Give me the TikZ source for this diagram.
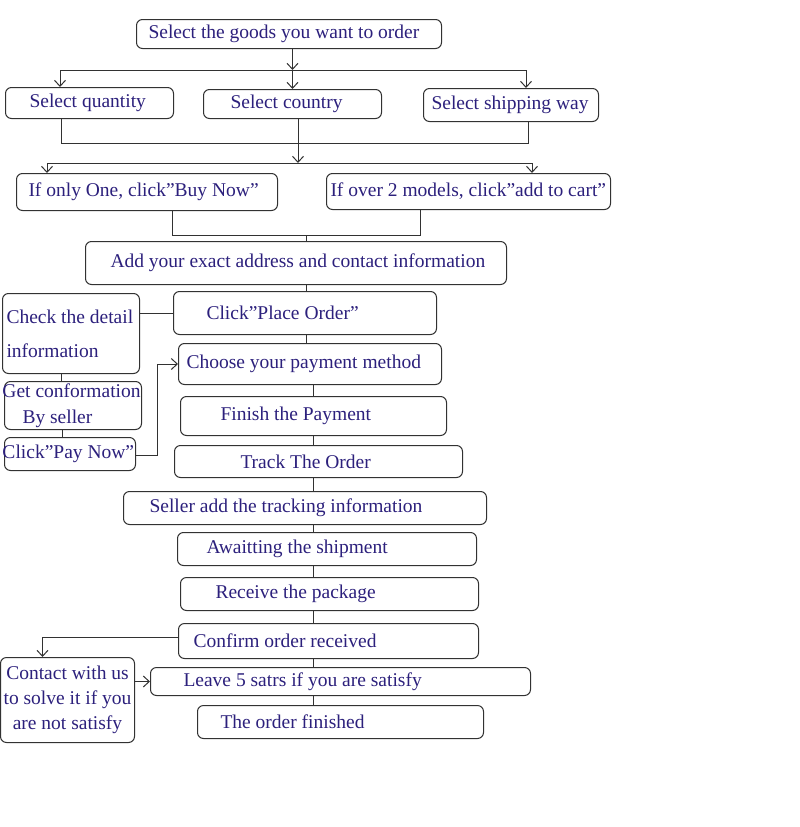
\documentclass[tikz,border=0pt]{standalone}
\usepackage{fontspec}
\setmainfont{Liberation Serif}
\usetikzlibrary{arrows.meta,positioning}
\definecolor{ink}{RGB}{44,32,124}
\definecolor{boxline}{RGB}{50,50,50}
\newcommand{\boxfont}{\fontsize{19.5}{23}\selectfont}
\tikzset{
  stepbox/.style={draw=boxline, line width=1pt, rounded corners=6pt, anchor=north west,
    align=left, inner ysep=0pt, text=ink, font=\boxfont,
    execute at begin node={\spaceskip=0.25em\relax}},
  link/.style={draw=boxline, line width=1pt},
  arrow/.style={link, -{Straight Barb[length=6pt,width=11pt]}},
}

\begin{document}
\begin{tikzpicture}[x=1pt, y=-1pt]
\useasboundingbox (0,0) rectangle (800,827);

% ordering steps
\node[stepbox, minimum height=29pt, inner xsep=12pt, text width=281pt] (goods) at (136,19) {\mbox{Select the goods you want to order}};
\node[stepbox, minimum height=31pt, inner xsep=24pt, text width=120pt] (qty) at (5,87) {\mbox{Select quantity}};
\node[stepbox, minimum height=29pt, inner xsep=27pt, text width=124pt] (country) at (203,89) {\mbox{Select country}};
\node[stepbox, minimum height=33pt, inner xsep=8pt, text width=159pt] (ship) at (423,88) {\mbox{Select shipping way}};
\node[stepbox, minimum height=37pt, inner xsep=12pt, text width=237pt] (buynow) at (16,173) {\mbox{If only One, click”Buy Now”}};
\node[stepbox, minimum height=36pt, inner xsep=4pt, text width=276pt] (cart) at (326,173) {\mbox{If over 2 models, click”add to cart”}};
\node[stepbox, minimum height=43pt, inner xsep=25pt, text width=371pt] (addr) at (85,241) {\mbox{Add your exact address and contact information}};

% payment
\node[stepbox, minimum height=43pt, inner xsep=33pt, text width=197pt] (place) at (173,291) {\mbox{Click”Place Order”}};
\node[stepbox, minimum height=80pt, inner xsep=4pt, text width=129pt] (check) at (2,293) {\mbox{Check the detail}\\[11pt]\mbox{information}};
\node[stepbox, minimum height=48pt, inner xsep=0pt, text width=137pt] (sellerok) at (4,381) {\mbox{\hspace*{-2pt}Get conformation}\\[3pt]\mbox{\hspace*{18pt}By seller}};
\node[stepbox, minimum height=33pt, inner xsep=0pt, text width=131pt] (paynow) at (4,437) {\mbox{\hspace*{-2pt}Click”Pay Now”}};
\node[stepbox, minimum height=41pt, inner xsep=8pt, text width=247pt] (paymeth) at (178,343) {\mbox{Choose your payment method}};
\node[stepbox, minimum height=39pt, inner xsep=40pt, text width=186pt] (finish) at (180,396) {\mbox{Finish the Payment}};
\node[stepbox, minimum height=32pt, inner xsep=66pt, text width=156pt] (track) at (174,445) {\mbox{Track The Order}};

% delivery
\node[stepbox, minimum height=33pt, inner xsep=26pt, text width=311pt] (tracking) at (123,491) {\mbox{Seller add the tracking information}};
\node[stepbox, minimum height=33pt, inner xsep=29pt, text width=241pt] (await) at (177,532) {\mbox{Awaitting the shipment}};
\node[stepbox, minimum height=33pt, inner xsep=35pt, text width=228pt] (receive) at (180,577) {\mbox{Receive the package}};
\node[stepbox, minimum height=35pt, inner xsep=15pt, text width=270pt] (confirm) at (178,623) {\mbox{Confirm order received}};
\node[stepbox, minimum height=85pt, inner xsep=0pt, text width=134pt, align=center] (contact) at (0,657) {\mbox{Contact with us}\\[2pt]\mbox{to solve it if you}\\[2pt]\mbox{are not satisfy}\\[8pt]};
\node[stepbox, minimum height=28pt, inner xsep=33pt, text width=314pt] (leave) at (150,667) {\mbox{Leave 5 satrs if you are satisfy}};
\node[stepbox, minimum height=33pt, inner xsep=23pt, text width=240pt] (done) at (197,705) {\mbox{The order finished}};

% junction points
\coordinate (qtyin) at (60,70);
\coordinate (shipin) at (526,70);
\coordinate (mergeL) at (61,143);
\coordinate (mergeR) at (528,143);
\coordinate (splitB) at (298,163);
\coordinate (buyin) at (47,163);
\coordinate (cartin) at (532,163);
\coordinate (mergeC1) at (172,235);
\coordinate (mergeC2) at (420,235);
\coordinate (payturn) at (157,455);
\coordinate (spineA) at (306,0);
\coordinate (spineB) at (313,0);

\draw[arrow] (goods.south -| country.north) -- (country.north |- qtyin);
\draw[link] (qtyin) -- (shipin);
\draw[arrow] (qtyin) -- (qtyin |- qty.north);
\draw[arrow] (country.north |- qtyin) -- (country.north);
\draw[arrow] (shipin) -- (shipin |- ship.north);

\draw[link] (qty.south -| mergeL) -- (mergeL) -- (mergeR) -- (ship.south -| mergeR);
\draw[arrow] (country.south -| splitB) -- (splitB);
\draw[link] (buyin) -- (cartin);
\draw[arrow] (buyin) -- (buyin |- buynow.north);
\draw[arrow] (cartin) -- (cartin |- cart.north);

\draw[link] (buynow.south -| mergeC1) -- (mergeC1) -- (mergeC2) -- (cart.south -| mergeC2);
\draw[link] (spineA |- mergeC1) -- (spineA |- addr.north);
\draw[link] (addr.south -| spineA) -- (spineA |- place.north);
\draw[link] (check.east |- place.west) -- (place.west);
\draw[link] (place.south -| spineA) -- (spineA |- paymeth.north);
\draw[link] ([xshift=-10pt]check.south) -- ([xshift=-10pt]check.south |- sellerok.north);
\draw[link] ([xshift=-11pt]sellerok.south) -- ([xshift=-11pt]sellerok.south |- paynow.north);
\draw[arrow] (paynow.east |- payturn) -- (payturn) |- (paymeth.west);
\draw[link] (paymeth.south -| spineB) -- (spineB |- finish.north);
\draw[link] (finish.south -| spineB) -- (spineB |- track.north);
\draw[link] (track.south -| spineB) -- (spineB |- tracking.north);
\draw[link] (tracking.south -| spineB) -- (spineB |- await.north);
\draw[link] (await.south -| spineB) -- (spineB |- receive.north);
\draw[link] (receive.south -| spineB) -- (spineB |- confirm.north);
\draw[arrow] ([yshift=4pt]confirm.west) -| ([xshift=-25pt]contact.north);
\draw[link] (confirm.south -| spineB) -- (spineB |- leave.north);
\draw[arrow] (contact.east |- leave.west) -- (leave.west);
\draw[link] (leave.south -| spineB) -- (spineB |- done.north);
\end{tikzpicture}
\end{document}
